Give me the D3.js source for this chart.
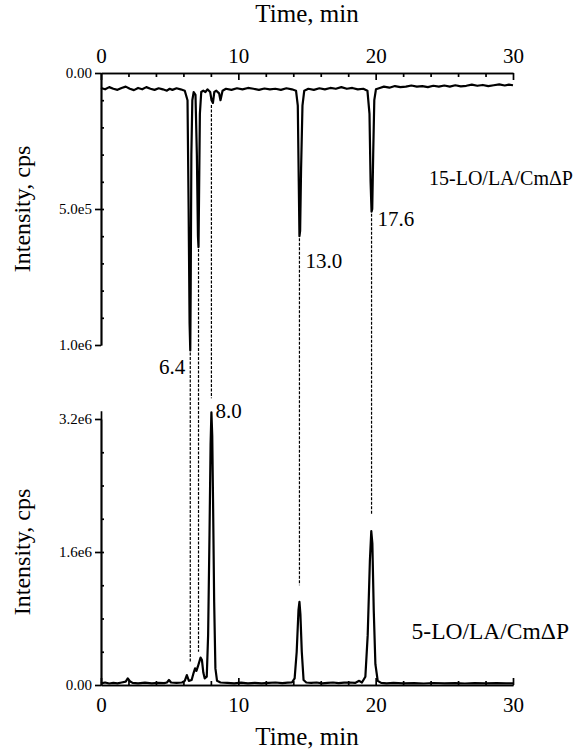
<!DOCTYPE html>
<html><head><meta charset="utf-8">
<script src="https://cdn.jsdelivr.net/npm/d3@7"></script>
<style>body{margin:0;background:#fff}svg{display:block}svg text{font-family:"Liberation Serif","Times New Roman",Tinos,serif !important;fill:#000}</style>
</head><body>
<svg id="c" width="575" height="750"></svg>
<script>
// ---- data (intensity in cps) ----
const xTicks=[0,10,20,30];
const xMinor=[2,4,6,8,12,14,16,18,22,24,26,28];
const topTicks=[0,5e5,1e6];
const topTickLabels=["0.00","5.0e5","1.0e6"];
const botTicks=[0,1.6e6,3.2e6];
const botTickLabels=["0.00","1.6e6","3.2e6"];
// 15-LO trace (time min, intensity e6, plotted downward)
const topTime=[0,0.3,0.6,0.9,1.2,1.5,1.8,2.1,2.4,2.7,3.0,3.3,3.6,3.9,4.2,4.5,4.8,5.0,5.2,5.5,5.8,6.1,6.3,6.38,6.45,6.5,6.53,6.58,6.65,6.75,6.88,6.98,7.06,7.1,7.14,7.2,7.3,7.45,7.6,7.75,7.95,8.05,8.15,8.25,8.4,8.6,8.7,8.85,9.1,9.5,9.9,10.3,10.7,11.1,11.5,11.9,12.3,12.7,13.1,13.5,13.9,14.2,14.33,14.4,14.45,14.5,14.57,14.67,14.8,15.1,15.5,15.9,16.3,16.7,17.1,17.5,17.9,18.3,18.7,19.1,19.4,19.55,19.63,19.7,19.75,19.82,19.9,20.02,20.3,20.6,21.0,21.4,21.8,22.2,22.6,23.0,23.4,23.8,24.2,24.6,25.0,25.4,25.8,26.2,26.6,27.0,27.4,27.8,28.2,28.6,29.0,29.4,29.7,30];
const topVal=[0.055,0.06,0.052,0.058,0.062,0.055,0.05,0.058,0.063,0.055,0.06,0.052,0.058,0.062,0.056,0.06,0.065,0.058,0.062,0.056,0.06,0.065,0.1,0.5,0.92,1.02,0.8,0.3,0.1,0.07,0.08,0.3,0.6,0.64,0.45,0.15,0.07,0.065,0.07,0.06,0.07,0.1,0.11,0.07,0.065,0.075,0.1,0.065,0.058,0.062,0.056,0.06,0.055,0.058,0.062,0.057,0.06,0.058,0.062,0.056,0.06,0.065,0.12,0.4,0.6,0.58,0.35,0.12,0.065,0.058,0.062,0.056,0.06,0.055,0.058,0.052,0.058,0.055,0.06,0.058,0.065,0.15,0.4,0.51,0.5,0.3,0.1,0.06,0.055,0.05,0.054,0.048,0.052,0.05,0.046,0.05,0.048,0.052,0.047,0.05,0.046,0.05,0.045,0.049,0.047,0.043,0.047,0.044,0.048,0.045,0.042,0.046,0.043,0.045,0.044];
// 5-LO trace
const botTime=[0,0.3,0.6,0.9,1.2,1.5,1.8,1.95,2.1,2.3,2.7,3.2,3.7,4.2,4.6,4.8,4.95,5.1,5.5,5.9,6.1,6.25,6.4,6.6,6.75,6.85,6.95,7.05,7.25,7.35,7.45,7.55,7.7,7.8,7.9,7.98,8.04,8.1,8.16,8.24,8.33,8.45,8.7,9.2,9.7,10.2,10.7,11.2,11.7,12.2,12.7,13.2,13.6,13.9,14.1,14.25,14.38,14.45,14.52,14.62,14.75,14.95,15.3,15.7,16.1,16.5,16.9,17.3,17.7,18.1,18.5,18.8,19.0,19.25,19.42,19.58,19.68,19.76,19.86,19.98,20.15,20.4,20.8,21.3,22.0,22.8,23.5,24.2,25.0,25.8,26.5,27.2,28.0,28.8,29.5,30];
const botVal=[0.02,0.03,0.018,0.025,0.02,0.03,0.04,0.08,0.045,0.025,0.02,0.028,0.02,0.025,0.022,0.03,0.06,0.03,0.025,0.03,0.05,0.12,0.05,0.06,0.15,0.2,0.17,0.22,0.33,0.3,0.15,0.08,0.1,0.6,1.8,2.9,3.28,3.0,2.2,1.0,0.2,0.05,0.03,0.025,0.02,0.028,0.02,0.025,0.02,0.025,0.03,0.022,0.028,0.03,0.08,0.4,0.9,1.0,0.85,0.4,0.06,0.03,0.025,0.03,0.02,0.025,0.03,0.022,0.028,0.03,0.025,0.05,0.03,0.1,0.6,1.5,1.85,1.7,0.9,0.25,0.05,0.025,0.02,0.025,0.02,0.022,0.018,0.024,0.02,0.022,0.018,0.023,0.02,0.022,0.019,0.02];
// dashed connectors: time, end in top panel (e6), end in bottom panel (e6)
const linkTime=[6.5,7.1,8.04,14.45,19.7];
const linkTop=[1.02,0.64,0.11,0.6,0.51];
const linkBot=[0.28,0.4,3.45,1.2,2.05];
const peakLabels=["6.4","8.0","13.0","17.6"];

const FF='"Liberation Serif","Times New Roman",Tinos,serif';
const svg=d3.select("#c");
const x=d3.scaleLinear().domain([0,30]).range([101,513]);
const yT=d3.scaleLinear().domain([0,1e6]).range([73,345]);
const yB=d3.scaleLinear().domain([0,3.2e6]).range([685,419]);

// axes
const gTopX=svg.append("g").attr("transform",`translate(0,${yT(0)})`)
  .call(d3.axisTop(x).tickValues(xTicks).tickSizeInner(-7).tickSizeOuter(0).tickPadding(10));
const gTopXm=svg.append("g").attr("transform",`translate(0,${yT(0)})`)
  .call(d3.axisTop(x).tickValues(xMinor).tickSizeInner(-4).tickSizeOuter(0).tickFormat(""));
const gBotX=svg.append("g").attr("transform",`translate(0,${yB(0)})`)
  .call(d3.axisBottom(x).tickValues(xTicks).tickSizeInner(-7).tickSizeOuter(0).tickPadding(12));
const gBotXm=svg.append("g").attr("transform",`translate(0,${yB(0)})`)
  .call(d3.axisBottom(x).tickValues(xMinor).tickSizeInner(-4).tickSizeOuter(0).tickFormat(""));
const gTopY=svg.append("g").attr("transform",`translate(${x(0)},0)`)
  .call(d3.axisLeft(yT).tickValues(topTicks).tickFormat((d,i)=>topTickLabels[i]).tickSizeInner(6).tickSizeOuter(0).tickPadding(3));
const gTopYm=svg.append("g").attr("transform",`translate(${x(0)},0)`)
  .call(d3.axisLeft(yT).tickValues(d3.range(1e5,1e6,1e5)).tickFormat("").tickSizeInner(-3).tickSizeOuter(0));
const gBotY=svg.append("g").attr("transform",`translate(${x(0)},0)`)
  .call(d3.axisLeft(yB.copy().domain([0,3.3e6]).range([685,yB(3.3e6)])).tickValues(botTicks).tickFormat((d,i)=>botTickLabels[i]).tickSizeInner(6).tickSizeOuter(0).tickPadding(3));
const gBotYm=svg.append("g").attr("transform",`translate(${x(0)},0)`)
  .call(d3.axisLeft(yB).tickValues(d3.range(4e5,3.2e6,4e5)).tickFormat("").tickSizeInner(-3).tickSizeOuter(0));
[gTopX,gTopXm,gBotX,gBotXm,gTopY,gTopYm,gBotY,gBotYm].forEach(g=>{
  g.attr("font-family",FF);
  g.selectAll("path,line").attr("stroke","#000").attr("stroke-width",1.7);
});
[gTopX,gBotX].forEach(g=>g.selectAll("text").attr("font-size",21).attr("font-family",FF));
[gTopY,gBotY].forEach(g=>g.selectAll("text").attr("font-size",15).attr("font-family",FF));

function label(xp,yp,txt,size,anchor,rot){
  const t=svg.append("text").attr("font-family",FF).attr("font-size",size).attr("text-anchor",anchor||"start").text(txt);
  if(rot) t.attr("transform",`translate(${xp},${yp}) rotate(${rot})`); else t.attr("x",xp).attr("y",yp);
  return t;
}
// axis titles
label((x(0)+x(30))/2,22,"Time, min",25,"middle");
label((x(0)+x(30))/2,745,"Time, min",25,"middle");
label(30,(yT(0)+yT(1e6))/2,"Intensity, cps",24,"middle",-90);
label(30,(yB(0)+yB(3.2e6))/2,"Intensity, cps",24,"middle",-90);

// dashed connectors
svg.append("g").selectAll("line").data(linkTime).join("line")
  .attr("x1",d=>x(d)).attr("x2",d=>x(d))
  .attr("y1",(d,i)=>yT(linkTop[i]*1e6)+2).attr("y2",(d,i)=>yB(linkBot[i]*1e6))
  .attr("stroke","#000").attr("stroke-width",1.2).attr("stroke-dasharray","3,1.5");

// traces
const lineT=d3.line().x(d=>x(d[0])).y(d=>yT(d[1]*1e6));
const lineB=d3.line().x(d=>x(d[0])).y(d=>yB(d[1]*1e6));
svg.append("path").datum(topTime.map((t,i)=>[t,topVal[i]])).attr("d",lineT).attr("fill","none").attr("stroke","#000").attr("stroke-width",2.2).attr("stroke-linejoin","round");
svg.append("path").datum(botTime.map((t,i)=>[t,botVal[i]])).attr("d",lineB).attr("fill","none").attr("stroke","#000").attr("stroke-width",2.2).attr("stroke-linejoin","round");

// peak labels
label(x(6.5)-5,yT(1.02e6)+24,peakLabels[0],21,"end");
label(x(8.04)+4,yB(3.28e6)+6,peakLabels[1],21);
label(x(14.45)+6,yT(0.6e6)+32,peakLabels[2],21);
label(x(19.7)+6,yT(0.51e6)+14,peakLabels[3],21);
// series labels
label(573,yT(0.41e6),"15-LO/LA/CmΔP",20,"end");
label(569,yB(0.55e6),"5-LO/LA/CmΔP",23.5,"end");
</script>
</body></html>
